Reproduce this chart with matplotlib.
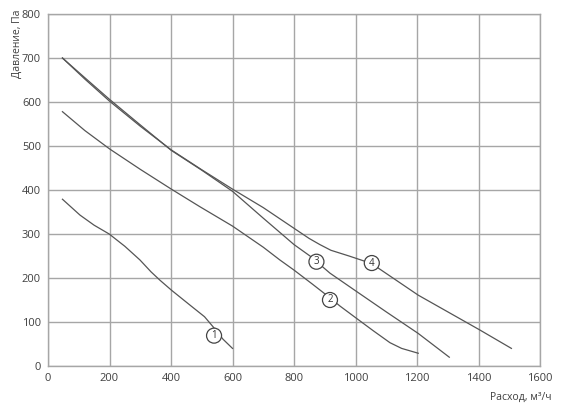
"""Напорные характеристики вентиляторов: давление от расхода."""

import matplotlib

matplotlib.use("Agg")
import matplotlib.pyplot as plt
from matplotlib.patches import Ellipse

plt.rcParams["font.family"] = ["Open Sans", "DejaVu Sans"]

# кривые
x1 = [47, 104, 150, 199, 250, 299, 335, 364, 402, 466, 509, 537, 569, 600]
y1 = [379, 343, 320, 300, 272, 241, 214, 195, 172, 136, 112, 89, 61, 40]

x2 = [47, 120, 201, 300, 401, 494, 600, 700, 754, 800, 860, 917, 950, 1000, 1058, 1112, 1150, 1204]
y2 = [578, 535, 493, 447, 402, 362, 318, 270, 241, 218, 186, 155, 136, 110, 80, 53, 40, 29]

x3 = [47, 120, 200, 300, 401, 500, 600, 700, 800, 852, 917, 1000, 1100, 1204, 1305]
y3 = [700, 655, 606, 548, 490, 445, 397, 336, 276, 250, 211, 171, 123, 74, 20]

x4 = [47, 120, 200, 300, 401, 500, 600, 700, 800, 849, 884, 920, 979, 1052, 1204, 1404, 1507]
y4 = [700, 652, 602, 545, 491, 446, 402, 360, 313, 290, 276, 263, 250, 233, 161, 82, 40]

labels = ["1", "2", "3", "4"]
label_x = [540, 917, 873, 1053]
label_y = [69, 150, 237, 234]

x_ticks = [0, 200, 400, 600, 800, 1000, 1200, 1400, 1600]
y_ticks = [0, 100, 200, 300, 400, 500, 600, 700, 800]


def main() -> None:
    fig = plt.figure(figsize=(5.68, 4.12), dpi=100)
    ax = fig.add_axes([48 / 568, 1 - 366 / 412, 492 / 568, 352 / 412])
    ax.set_xlim(0, 1600)
    ax.set_ylim(0, 800)
    ax.set_xticks(x_ticks)
    ax.set_yticks(y_ticks)
    ax.grid(True, color="#a6a6a6", linewidth=1.0)
    ax.set_axisbelow(True)
    for s in ax.spines.values():
        s.set_color("#a6a6a6")
        s.set_linewidth(1.0)
    ax.tick_params(length=0, labelsize=8, colors="#404040", pad=5)

    for xs, ys in [(x1, y1), (x2, y2), (x3, y3), (x4, y4)]:
        ax.plot(xs, ys, color="#555555", linewidth=0.9, zorder=3)

    # кружки с номерами кривых
    w = 15 * 1600 / 492
    h = 15 * 800 / 352
    for t, lx, ly in zip(labels, label_x, label_y):
        ax.add_patch(Ellipse((lx, ly), w, h, facecolor="white",
                             edgecolor="#444444", linewidth=0.9, zorder=4))
        ax.text(lx, ly, t, ha="center", va="center", fontsize=7,
                color="#333333", zorder=5)

    fig.text(17 / 568, 1 - 10 / 412, "Давление, Па", rotation=90,
             ha="center", va="top", fontsize=7.5, color="#404040")
    fig.text(551 / 568, 1 - 397 / 412, "Расход, м³/ч", ha="right",
             va="center", fontsize=7.5, color="#404040")

    fig.savefig("out.png", dpi=100)


if __name__ == "__main__":
    main()
